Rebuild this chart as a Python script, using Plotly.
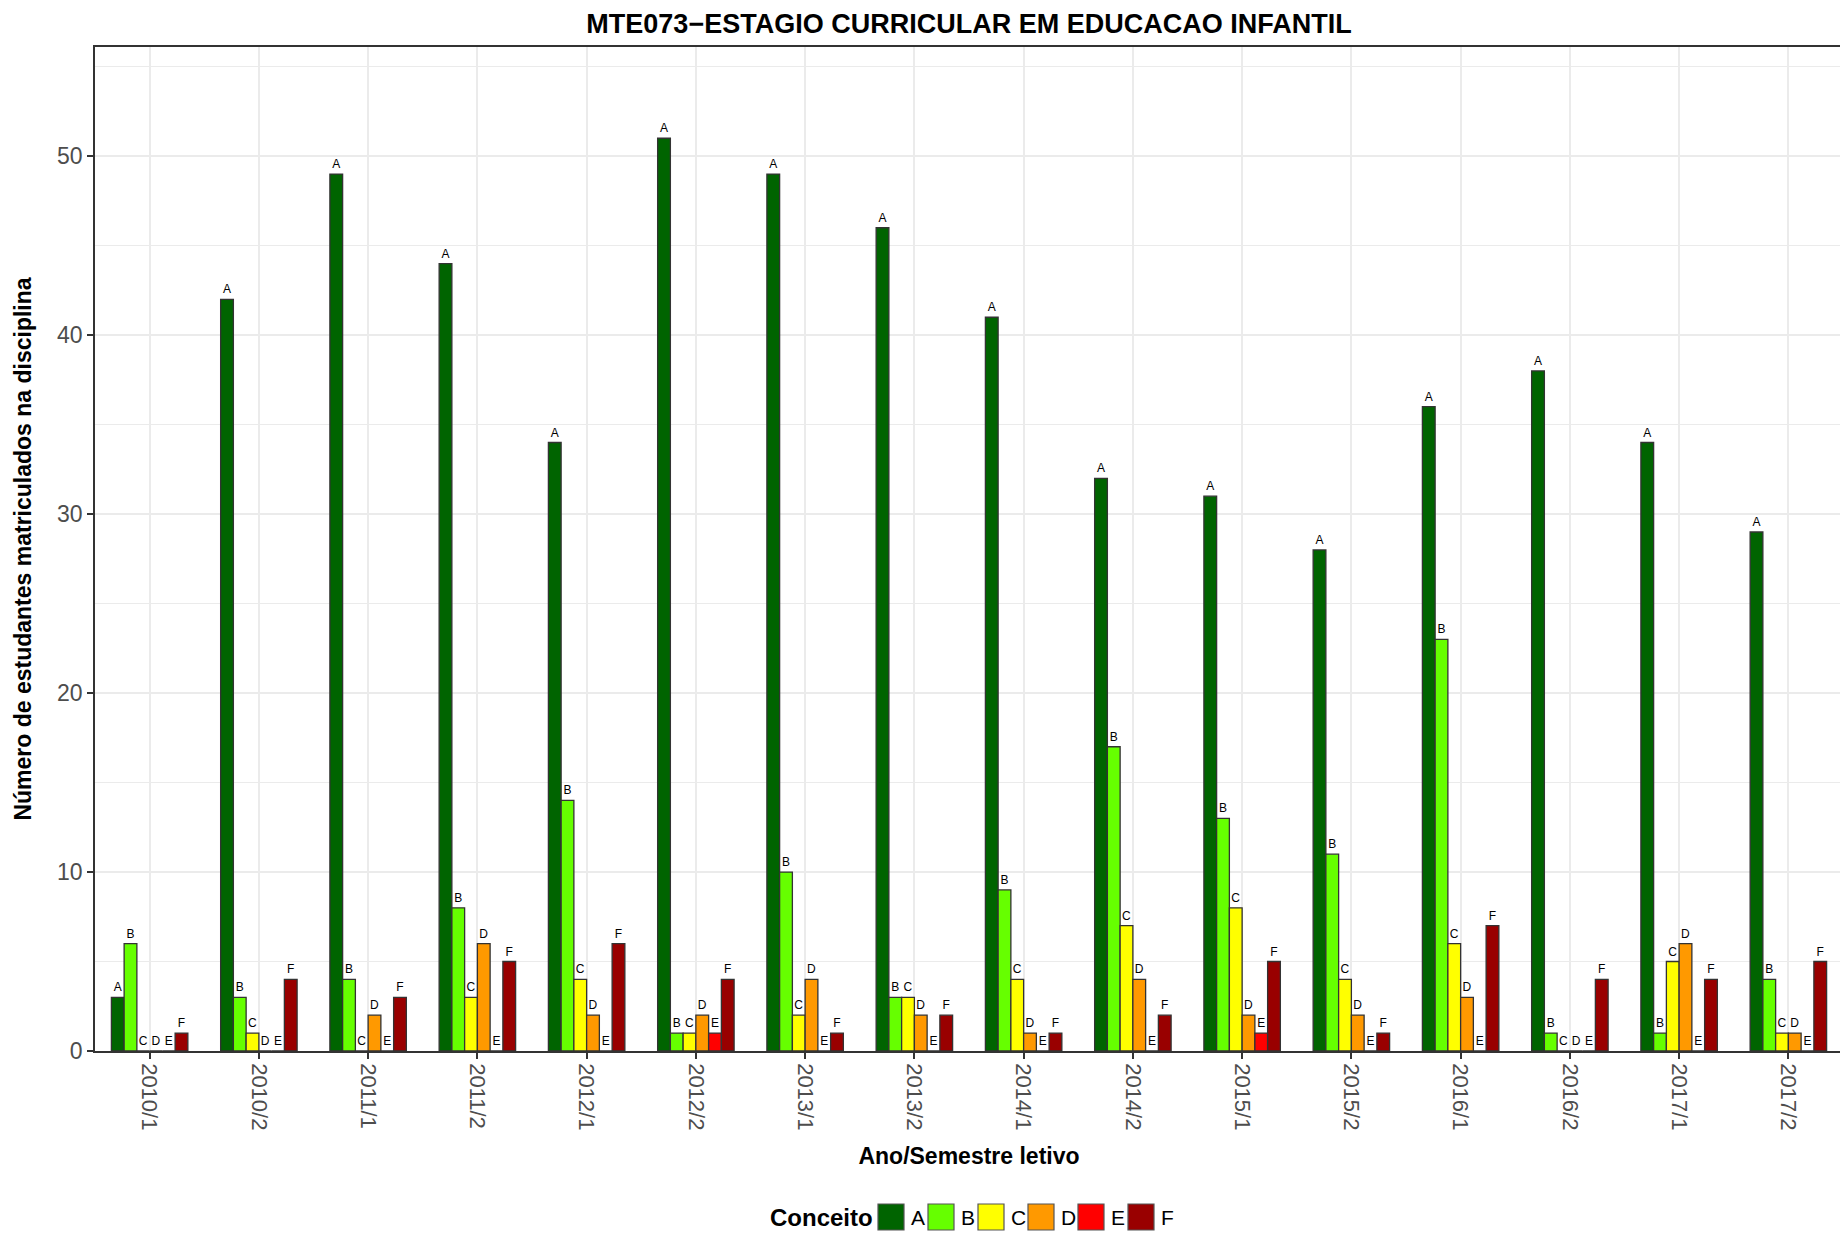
import plotly.graph_objects as go

# semestres e conceitos
periodos = ["2010/1", "2010/2", "2011/1", "2011/2", "2012/1", "2012/2", "2013/1", "2013/2",
            "2014/1", "2014/2", "2015/1", "2015/2", "2016/1", "2016/2", "2017/1", "2017/2"]
conceitos = ["A", "B", "C", "D", "E", "F"]

conceito_a = [3, 42, 49, 44, 34, 51, 49, 46, 41, 32, 31, 28, 36, 38, 34, 29]
conceito_b = [6, 3, 4, 8, 14, 1, 10, 3, 9, 17, 13, 11, 23, 1, 1, 4]
conceito_c = [0, 1, 0, 3, 4, 1, 2, 3, 4, 7, 8, 4, 6, 0, 5, 1]
conceito_d = [0, 0, 2, 6, 2, 2, 4, 2, 1, 4, 2, 2, 3, 0, 6, 1]
conceito_e = [0, 0, 0, 0, 0, 1, 0, 0, 0, 0, 1, 0, 0, 0, 0, 0]
conceito_f = [1, 4, 3, 5, 6, 4, 1, 2, 1, 2, 5, 1, 7, 4, 4, 5]

cores = ["#006400", "#66FF00", "#FFFF00", "#FF9900", "#FF0000", "#990000"]

valores = [conceito_a, conceito_b, conceito_c, conceito_d, conceito_e, conceito_f]

# a pagina tem margem de 8px no body, entao a figura fica 8px menor
W, H = 1840, 1226
L, R, T, B = 87, 5, 39, 183
pw, ph = W - L - R, H - T - B


def px(x):
    return (x - L) / pw


def py(y):
    return (H - B - y) / ph


fig = go.Figure()

for nome, vals, cor in zip(conceitos, valores, cores):
    fig.add_trace(
        go.Bar(
            x=periodos,
            y=vals,
            name=nome,
            marker=dict(color=cor, line=dict(color="#333333", width=1.3)),
            text=[nome] * len(vals),
            textposition="outside",
            textfont=dict(size=12, color="#000000"),
            constraintext="none",
            cliponaxis=False,
            showlegend=False,
        )
    )

# legenda desenhada à mao (quadrados grandes como no ggplot)
shapes = []
annotations = [
    dict(text="<b>Conceito</b>", x=px(760), y=py(1209), xref="paper", yref="paper",
         xanchor="left", yanchor="middle", showarrow=False,
         font=dict(size=24, color="#000000"))
]
x0 = 870
for nome, cor in zip(conceitos, cores):
    shapes.append(dict(type="rect", xref="paper", yref="paper",
                       x0=px(x0), x1=px(x0 + 26), y0=py(1222), y1=py(1196),
                       fillcolor=cor, line=dict(color="#555555", width=1.2)))
    annotations.append(dict(text=nome, x=px(x0 + 31), y=py(1209), xref="paper", yref="paper",
                            xanchor="left", yanchor="middle", showarrow=False,
                            font=dict(size=21, color="#000000")))
    x0 += 50

fig.update_layout(
    width=W,
    height=H,
    barmode="group",
    bargap=0.3,
    bargroupgap=0,
    template="plotly_white",
    plot_bgcolor="#FFFFFF",
    paper_bgcolor="#FFFFFF",
    font=dict(family="Liberation Sans, Arial, sans-serif", color="#000000"),
    margin=dict(l=L, r=R, t=T, b=B, autoexpand=False),
    title=dict(
        text="<b>MTE073\u2212ESTAGIO CURRICULAR EM EDUCACAO INFANTIL</b>",
        x=0.5 * (2 * L + pw) / W, xanchor="center",
        y=1 - 16 / H, yref="container", yanchor="middle",
        font=dict(size=27, color="#000000"),
    ),
    shapes=shapes,
    annotations=annotations,
)

fig.update_xaxes(
    title=dict(text="<b>Ano/Semestre letivo</b>", font=dict(size=23, color="#000000"), standoff=18),
    tickangle=90,
    tickfont=dict(size=22, color="#4D4D4D"),
    ticks="outside", ticklen=6, tickcolor="#333333", tickwidth=1.5,
    showgrid=True, gridcolor="#EBEBEB", gridwidth=1.6,
    showline=True, mirror=True, linecolor="#333333", linewidth=1.5,
)

fig.update_yaxes(
    title=dict(text="<b>Número de estudantes matriculados na disciplina</b>",
               font=dict(size=23, color="#000000"), standoff=19),
    range=[0, 56.1],
    dtick=10,
    tickfont=dict(size=23, color="#4D4D4D"),
    ticks="outside", ticklen=6, tickcolor="#333333", tickwidth=1.5,
    showgrid=True, gridcolor="#EBEBEB", gridwidth=1.6,
    minor=dict(dtick=5, showgrid=True, gridcolor="#EBEBEB", gridwidth=0.8),
    zeroline=False,
    showline=True, mirror=True, linecolor="#333333", linewidth=1.5,
)

fig.write_html("out.html")
